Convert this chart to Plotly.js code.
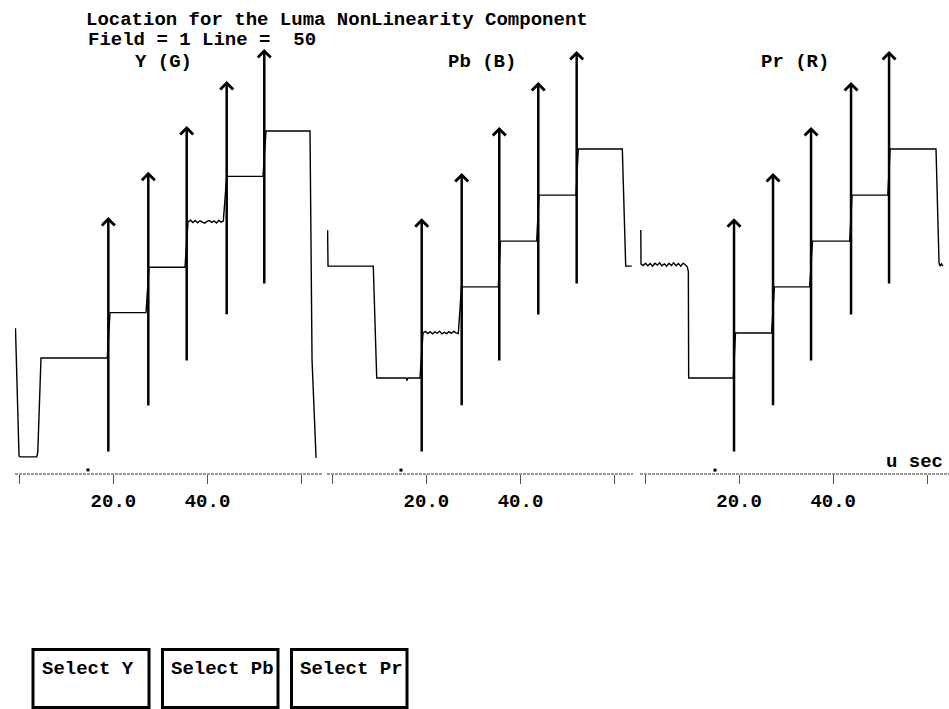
<!DOCTYPE html>
<html><head><meta charset="utf-8">
<script src="https://cdn.plot.ly/plotly-3.0.1.min.js"></script>
<style>html,body{margin:0;padding:0;background:#fff;} #chart{width:949px;height:709px;}</style>
</head><body><div id="chart"></div>
<script>
// ---------- DATA (time in microseconds, level in mV) ----------
const titleLine1 = 'Location for the Luma NonLinearity Component';
const titleLine2 = 'Field = 1 Line =\u00a0 50';
const panelNames = ['Y (G)', 'Pb (B)', 'Pr (R)'];
const buttonLabels = ['Select Y', 'Select Pb', 'Select Pr'];
const tickVals = [0, 20, 40, 60];
const tickLabels = ['', '20.0', '40.0', ''];
const unitLabel = 'u sec';

const yTime  = [-0.81, -0.21, -0.06, 0.15, 3.70, 3.93, 4.61, 18.70, 19.28, 26.93, 27.57, 35.22, 35.86, 36.4, 36.9, 37.4, 37.9, 38.4, 38.9, 39.4, 39.9, 40.4, 40.9, 41.4, 41.9, 42.4, 42.9, 43.36, 44.08, 51.80, 52.44, 61.79, 62.22, 63.07];
const yLevel = [92, -284, -302, -305, -305, -290, 0, 0, 140, 140, 280, 280, 420, 425, 418, 424, 417, 423, 419, 416, 421, 424, 418, 423, 416, 424, 419, 422, 560, 560, 700, 700, -6, -308];

const pbTime  = [-1.0, -0.91, 8.71, 9.44, 15.7, 15.88, 16.05, 18.64, 19.28, 19.8, 20.3, 20.8, 21.3, 21.8, 22.3, 22.8, 23.3, 23.8, 24.3, 24.8, 25.3, 25.8, 26.3, 26.78, 27.46, 35.28, 35.75, 43.44, 43.93, 51.80, 52.28, 61.64, 62.36, 63.63];
const pbLevel = [106, -5, -5, -350, -350, -358, -350, -350, -211, -206, -213, -207, -214, -208, -212, -206, -214, -209, -213, -207, -212, -206, -211, -213, -69, -69, 72, 72, 214, 214, 356, 356, -5, -5];

const prTime  = [-0.89, -0.85, -0.4, 0.1, 0.6, 1.1, 1.6, 2.1, 2.6, 3.1, 3.6, 4.1, 4.6, 5.1, 5.6, 6.1, 6.6, 7.1, 7.6, 8.1, 8.5, 8.99, 9.21, 9.28, 18.77, 19.23, 26.9, 27.5, 35.0, 35.6, 43.5, 44.0, 51.6, 52.1, 61.85, 62.49, 62.7, 63.0, 63.3];
const prLevel = [106, 2, -3, 4, -4, 3, -5, 4, -2, 5, -4, 2, -5, 4, -3, 5, -4, 3, -5, 4, 0, -7, -22, -350, -350, -211, -211, -69, -69, 72, 72, 214, 214, 356, 356, 5, -5, 2, -5];

const yArrowTime  = [18.92, 27.42, 35.58, 44.08, 52.07];
const yArrowLow   = [-293, -151, -12, 130, 225];
const yArrowHigh  = [435, 574, 715, 854, 953];
const pbArrowTime = [19.00, 27.50, 35.49, 43.78, 51.94];
const pbArrowLow  = [-581, -439, -301, -159, -63];
const pbArrowHigh = [143, 282, 424, 563, 658];
const prArrowTime = [18.92, 27.21, 35.29, 43.79, 51.87];
const prArrowLow  = [-581, -439, -301, -159, -63];
const prArrowHigh = [143, 282, 424, 563, 658];

const cursorTime  = [14.6, 14.6, 14.88];
const cursorLevel = [-345, -634, -634];

// ---------- LAYOUT HELPERS ----------
const W = 949, H = 709;
const fx = p => p / W;
const fy = p => 1 - p / H;
const FONT = 'Courier New, Nimbus Mono PS, Liberation Mono, monospace';
const bold = (size) => ({family: FONT, size: size, color: '#000', weight: 'bold'});

const panels = [
  {t: yTime, v: yLevel, at: yArrowTime, lo: yArrowLow, hi: yArrowHigh, dom: [15, 323], xr: [-0.914, 64.55], yr: [-357.7, 1103.9]},
  {t: pbTime, v: pbLevel, at: pbArrowTime, lo: pbArrowLow, hi: pbArrowHigh, dom: [327, 633], xr: [-1.127, 63.91], yr: [-646.0, 815.6]},
  {t: prTime, v: prLevel, at: prArrowTime, lo: prArrowLow, hi: prArrowHigh, dom: [640, 949], xr: [-1.063, 64.61], yr: [-646.0, 815.6]}
];

const traces = [];
const annotations = [];
const shapes = [];
const layout = {
  width: W, height: H,
  margin: {l: 0, r: 0, t: 0, b: 0},
  paper_bgcolor: '#fff', plot_bgcolor: 'rgba(0,0,0,0)',
  showlegend: false, hovermode: false,
  font: bold(19),
  title: {text: titleLine1, x: fx(86), xanchor: 'left', xref: 'paper', y: fy(18), yanchor: 'middle', yref: 'paper', font: bold(19)}
};

panels.forEach((p, i) => {
  const n = i === 0 ? '' : String(i + 1);
  const xa = 'x' + n, ya = 'y' + n;
  traces.push({type: 'scatter', mode: 'lines', x: p.t, y: p.v, xaxis: xa, yaxis: ya,
    line: {color: '#000', width: 1.4}});
  traces.push({type: 'scatter', mode: 'markers', x: [cursorTime[i]], y: [cursorLevel[i]], xaxis: xa, yaxis: ya,
    marker: {symbol: 'square', size: 3, color: '#000'}});
  layout['xaxis' + n] = {
    domain: [fx(p.dom[0]), fx(p.dom[1])], range: p.xr, anchor: ya,
    tickvals: tickVals, ticktext: tickLabels, ticks: 'outside', ticklen: 9, tickwidth: 1, tickcolor: '#555',
    showgrid: false, zeroline: false, showline: false, tickfont: bold(19), fixedrange: true
  };
  layout['yaxis' + n] = {domain: [fy(474), 1], range: p.yr, anchor: xa, visible: false, fixedrange: true};
  shapes.push({type: 'line', xref: xa + ' domain', yref: ya + ' domain', x0: 0, x1: 1, y0: 0, y1: 0,
    line: {color: '#333', width: 1, dash: '3px,1px'}});
  p.at.forEach((t, k) => {
    annotations.push({xref: xa, yref: ya, axref: xa, ayref: ya, x: t, y: p.hi[k], ax: t, ay: p.lo[k],
      text: '', showarrow: true, arrowhead: 4, arrowsize: 1, arrowwidth: 2.5, arrowcolor: '#000', standoff: 0});
  });
});

annotations.push({xref: 'paper', yref: 'paper', x: fx(86), y: fy(40), xanchor: 'left', yanchor: 'middle', text: titleLine2, showarrow: false, font: bold(19)});
const labelX = [133, 446, 759];
panelNames.forEach((s, i) => annotations.push({xref: 'paper', yref: 'paper', x: fx(labelX[i]), y: fy(62), xanchor: 'left', yanchor: 'middle', text: s, showarrow: false, font: bold(19)}));
annotations.push({xref: 'paper', yref: 'paper', x: fx(884), y: fy(462), xanchor: 'left', yanchor: 'middle', text: unitLabel, showarrow: false, font: bold(19)});

const boxes = [[33, 149], [162.5, 278], [291.5, 407]];
const textX = [40, 169, 298];
buttonLabels.forEach((s, i) => {
  shapes.push({type: 'rect', xref: 'paper', yref: 'paper', x0: fx(boxes[i][0]), x1: fx(boxes[i][1]), y0: fy(649.5), y1: fy(707.5),
    line: {color: '#000', width: 3}, fillcolor: 'rgba(0,0,0,0)'});
  annotations.push({xref: 'paper', yref: 'paper', x: fx(textX[i]), y: fy(669), xanchor: 'left', yanchor: 'middle', text: s, showarrow: false, font: bold(19)});
});

layout.annotations = annotations;
layout.shapes = shapes;
Plotly.newPlot('chart', traces, layout, {displayModeBar: false, staticPlot: true});
</script></body></html>
